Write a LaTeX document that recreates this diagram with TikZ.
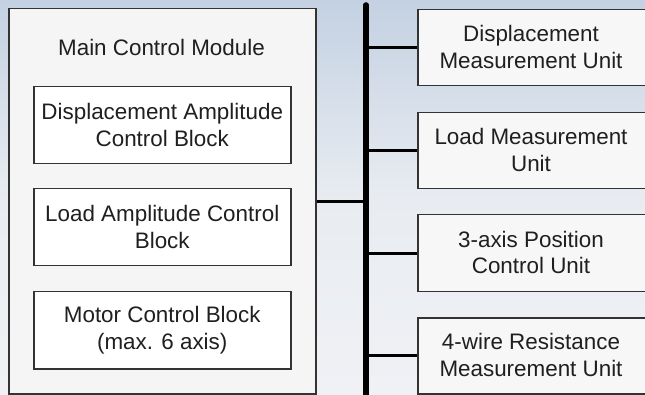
\documentclass[tikz,border=0pt]{standalone}
\usepackage{fontspec}
\setmainfont{Liberation Sans}
\begin{document}
\begin{tikzpicture}[x=1pt,y=-1pt,
  every node/.style={font=\fontsize{22.4}{26.6}\selectfont, text=black!88, align=center, inner sep=0pt},
  mainbox/.style={draw=black!80, line width=1.5pt, fill=black!4, anchor=north west, minimum width=307pt, minimum height=385pt},
  blockbox/.style={draw=black!80, line width=1.5pt, fill=white, anchor=north west, minimum width=257pt, minimum height=77pt},
  unitbox/.style={draw=black!80, line width=1.5pt, fill=black!3, anchor=north west, minimum width=240pt, minimum height=76pt},
  busline/.style={line width=5.5pt, black, line cap=round},
  link/.style={line width=3pt, black}]
\useasboundingbox (0,0) rectangle (645,395);
\clip (0,0) rectangle (645,395);
\shade[top color={rgb,255:red,196;green,209;blue,226}, bottom color={rgb,255:red,240;green,241;blue,245}, middle color={rgb,255:red,232;green,236;blue,241}] (0,0) rectangle (645,395);
\node[mainbox] (main) at (8,8) {};
\node (title) at (161.5,47) {Main Control Module};
\node[blockbox] (b1) at (33,86) {};
\node at (b1.center) {Displacement Amplitude\\Control Block};
\node[blockbox] (b2) at (33,188) {};
\node at (b2.center) {Load Amplitude Control\\Block};
\node[blockbox] (b3) at (33,291) {};
\node at (b3.center) {Motor Control Block\\(max. 6 axis)};
\node[unitbox] (u1) at (417,9) {};
\node at (531,47) {Displacement\\Measurement Unit};
\node[unitbox] (u2) at (417,112) {};
\node at (531,150) {Load Measurement\\Unit};
\node[unitbox, minimum height=77pt] (u3) at (417,214) {};
\node at (531,252.5) {3-axis Position\\Control Unit};
\node[unitbox] (u4) at (417,317) {};
\node at (531,355) {4-wire Resistance\\Measurement Unit};
\coordinate (bustop) at (366,5);
\coordinate (busbot) at (366,402);
\coordinate (bm) at (366,202);
\draw[busline] (bustop) -- (busbot);
\draw[link] (main.east |- bm) -- (bm);
\foreach \u in {u1,u2,u3,u4}{
  \draw[link] (bustop |- \u.west) -- (\u.west);
}
\end{tikzpicture}
\end{document}
